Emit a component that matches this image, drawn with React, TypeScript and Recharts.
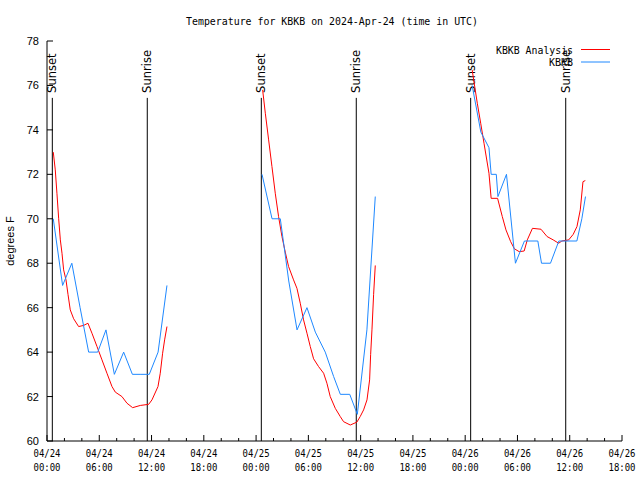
import { LineChart, Line, XAxis, YAxis, ReferenceLine } from 'recharts';

// hours since 04/24 00:00 UTC, temperature in degrees F
const analysisNight1 = [
  [0.72, 73.0], [0.95, 72.2], [1.14, 71.15], [1.34, 70.0], [1.53, 69.05], [1.72, 68.45],
  [1.91, 67.7], [2.18, 67.25], [2.41, 66.6], [2.67, 65.9], [3.06, 65.5], [3.63, 65.15],
  [4.2, 65.2], [4.7, 65.3], [5.16, 64.85], [5.74, 64.25], [6.31, 63.65], [6.88, 63.05],
  [7.46, 62.45], [7.84, 62.2], [8.6, 62.0], [9.18, 61.7], [9.83, 61.5], [10.71, 61.6],
  [11.67, 61.65], [12.05, 61.85], [12.74, 62.45], [13.0, 63.05], [13.27, 63.95],
  [13.5, 64.55], [13.77, 65.15],
];
const obsNight1 = [
  [0.72, 70], [1.79, 67], [2.85, 68], [3.8, 66], [4.78, 64], [5.82, 64], [6.77, 65],
  [7.73, 63], [8.8, 64], [9.8, 63], [10.78, 63], [11.74, 63], [12.75, 64], [13.77, 67],
];
const analysisNight2 = [
  [24.75, 75.8], [25.06, 74.75], [25.44, 73.55], [25.82, 72.35], [26.2, 71.15], [26.58, 70.1],
  [26.97, 69.2], [27.35, 68.5], [27.73, 67.85], [28.3, 67.25], [28.69, 66.87], [29.07, 66.2],
  [29.45, 65.45], [29.84, 64.85], [30.22, 64.25], [30.6, 63.7], [31.17, 63.35], [31.75, 63.05],
  [32.13, 62.6], [32.51, 62.0], [33.09, 61.47], [33.66, 61.1], [34.04, 60.87], [34.81, 60.72],
  [35.57, 60.85], [35.95, 61.1], [36.34, 61.4], [36.73, 61.85], [37.03, 62.75], [37.15, 63.9],
  [37.3, 65.0], [37.49, 66.6], [37.68, 67.9],
];
const obsNight2 = [
  [24.68, 72], [25.83, 70], [26.78, 70], [27.75, 67.2], [28.7, 65], [29.84, 66], [30.8, 64.9],
  [31.94, 64], [32.9, 62.9], [33.67, 62.1], [34.75, 62.1], [35.62, 61.2], [36.72, 65], [37.68, 71],
];
const analysisNight3 = [
  [48.8, 76.7], [49.39, 75.2], [49.78, 74.3], [50.16, 73.4], [50.73, 72.05], [50.98, 70.92],
  [51.72, 70.92], [52.26, 70.1], [52.68, 69.5], [53.22, 68.97], [53.65, 68.65], [54.2, 68.52],
  [54.77, 68.55], [55.13, 69.05], [55.72, 69.57], [56.7, 69.53], [57.4, 69.2], [58.1, 69.05],
  [58.73, 68.9], [59.1, 69.0], [59.88, 69.05], [60.4, 69.3], [60.83, 69.65], [61.21, 70.4],
  [61.52, 71.67], [61.79, 71.72],
];
const obsNight3 = [
  [48.8, 76], [49.8, 73.9], [50.73, 73.2], [50.98, 72], [51.57, 72], [51.76, 71], [52.74, 72],
  [53.77, 68], [54.8, 69], [56.34, 69], [56.76, 68], [57.79, 68], [58.75, 69], [60.82, 69],
  [61.39, 70], [61.81, 71],
];

const sunsetHours = [0.61, 24.6, 48.63];
const sunriseHours = [11.51, 35.5, 59.54];
const sunMarkTop = 75.44;

const yTicks = [60, 62, 64, 66, 68, 70, 72, 74, 76, 78];
const xTicks = [0, 2, 4, 6, 8, 10, 12, 14, 16, 18, 20, 22, 24, 26, 28, 30, 32, 34, 36, 38, 40, 42, 44, 46, 48, 50, 52, 54, 56, 58, 60, 62, 64, 66];
const dayLabels = ['04/24', '04/25', '04/26'];
const hourLabels = ['00:00', '06:00', '12:00', '18:00'];

const MONO = 'DejaVu Sans Mono, monospace';
const SANS = 'Liberation Sans, Arial, sans-serif';
const RED = '#ff0000';
const BLUE = '#1e88ff';

const toPoints = (rows: number[][]) => rows.map(([h, t]) => ({ h, t }));

const BottomTick = (props: any) => {
  const { x, y, payload } = props;
  const h = payload.value;
  const major = h % 6 === 0;
  return (
    <g>
      <line x1={x} x2={x} y1={y} y2={y - (major ? 6 : 3)} stroke="#000" />
      {major && (
        <text fontFamily={MONO} fontSize={10} fill="#000" textAnchor="middle">
          <tspan x={x} y={y + 16} textLength={27} lengthAdjust="spacingAndGlyphs">
            {dayLabels[Math.floor(h / 24)]}
          </tspan>
          <tspan x={x} y={y + 30} textLength={27} lengthAdjust="spacingAndGlyphs">
            {hourLabels[(h % 24) / 6]}
          </tspan>
        </text>
      )}
    </g>
  );
};

const TopTick = (props: any) => {
  const { x, y, payload } = props;
  const major = payload.value % 6 === 0;
  return <line x1={x} x2={x} y1={y} y2={y + (major ? 6 : 3)} stroke="#000" />;
};

const LeftTick = (props: any) => {
  const { x, y, payload } = props;
  return (
    <g>
      <line x1={x} x2={x + 6} y1={y} y2={y} stroke="#000" />
      <text x={x - 8} y={y} dy="0.36em" textAnchor="end" fontFamily={SANS} fontSize={11} fill="#000">
        {payload.value}
      </text>
    </g>
  );
};

const RightTick = (props: any) => {
  const { x, y } = props;
  return <line x1={x} x2={x - 6} y1={y} y2={y} stroke="#000" />;
};

const sunLabel = (text: string) => (props: any) => {
  const vb = props.viewBox || {};
  const x = vb.x;
  const y = vb.y - 5;
  return (
    <text
      x={x}
      y={y}
      dy="0.36em"
      transform={`rotate(-90 ${x} ${y})`}
      textAnchor="start"
      fontFamily="DejaVu Sans, sans-serif"
      fontSize={11.5}
      fill="#000"
    >
      {text}
    </text>
  );
};

const analysisSegments = [analysisNight1, analysisNight2, analysisNight3];
const obsSegments = [obsNight1, obsNight2, obsNight3];

export default function App() {
  return (
    <div style={{ position: 'absolute', left: 0, top: 0, width: 640, height: 480, background: '#fff' }}>
      <LineChart width={640} height={480} margin={{ top: 41, right: 18, bottom: 0, left: 0 }}>
        <XAxis
          dataKey="h"
          type="number"
          domain={[0, 66]}
          ticks={xTicks}
          interval={0}
          height={39}
          tickSize={0}
          tickMargin={0}
          tickLine={false}
          tick={<BottomTick />}
          axisLine={{ stroke: '#000' }}
          allowDataOverflow
        />
        <XAxis
          xAxisId="top"
          orientation="top"
          dataKey="h"
          type="number"
          domain={[0, 66]}
          ticks={xTicks}
          interval={0}
          height={0}
          tickSize={0}
          tickMargin={0}
          tickLine={false}
          tick={<TopTick />}
          axisLine={{ stroke: '#000' }}
          allowDataOverflow
        />
        <YAxis
          type="number"
          domain={[60, 78]}
          ticks={yTicks}
          interval={0}
          width={47}
          tickSize={0}
          tickMargin={0}
          tickLine={false}
          tick={<LeftTick />}
          axisLine={{ stroke: '#000' }}
          allowDataOverflow
        />
        <YAxis
          yAxisId="r"
          orientation="right"
          type="number"
          domain={[60, 78]}
          ticks={yTicks}
          interval={0}
          width={0}
          tickSize={0}
          tickMargin={0}
          tickLine={false}
          tick={<RightTick />}
          axisLine={{ stroke: '#000' }}
          allowDataOverflow
        />
        {sunsetHours.map((h) => (
          <ReferenceLine
            key={'ss' + h}
            segment={[{ x: h, y: 60 }, { x: h, y: sunMarkTop }]}
            stroke="#000"
            ifOverflow="visible"
            label={sunLabel('Sunset')}
          />
        ))}
        {sunriseHours.map((h) => (
          <ReferenceLine
            key={'sr' + h}
            segment={[{ x: h, y: 60 }, { x: h, y: sunMarkTop }]}
            stroke="#000"
            ifOverflow="visible"
            label={sunLabel('Sunrise')}
          />
        ))}
        {analysisSegments.map((seg, i) => (
          <Line
            key={'a' + i}
            data={toPoints(seg)}
            dataKey="t"
            name="KBKB Analysis"
            stroke={RED}
            strokeWidth={1}
            dot={false}
            isAnimationActive={false}
          />
        ))}
        {obsSegments.map((seg, i) => (
          <Line
            key={'o' + i}
            data={toPoints(seg)}
            dataKey="t"
            name="KBKB"
            stroke={BLUE}
            strokeWidth={1}
            dot={false}
            isAnimationActive={false}
          />
        ))}
      </LineChart>
      <svg width={640} height={480} style={{ position: 'absolute', left: 0, top: 0, pointerEvents: 'none' }}>
        <text x={332} y={25} textAnchor="middle" fontFamily={MONO} fontSize={11} fill="#000" textLength={292} lengthAdjust="spacingAndGlyphs">
          Temperature for KBKB on 2024-Apr-24 (time in UTC)
        </text>
        <text x={14} y={241} transform="rotate(-90 14 241)" textAnchor="middle" fontFamily={SANS} fontSize={11} fill="#000">
          degrees F
        </text>
        <text x={573} y={53.5} textAnchor="end" fontFamily={MONO} fontSize={11} fill="#000" textLength={77} lengthAdjust="spacingAndGlyphs">
          KBKB Analysis
        </text>
        <line x1={581} x2={610} y1={49.5} y2={49.5} stroke={RED} />
        <text x={573} y={66} textAnchor="end" fontFamily={MONO} fontSize={11} fill="#000" textLength={24} lengthAdjust="spacingAndGlyphs">
          KBKB
        </text>
        <line x1={581} x2={610} y1={62} y2={62} stroke={BLUE} />
      </svg>
    </div>
  );
}
